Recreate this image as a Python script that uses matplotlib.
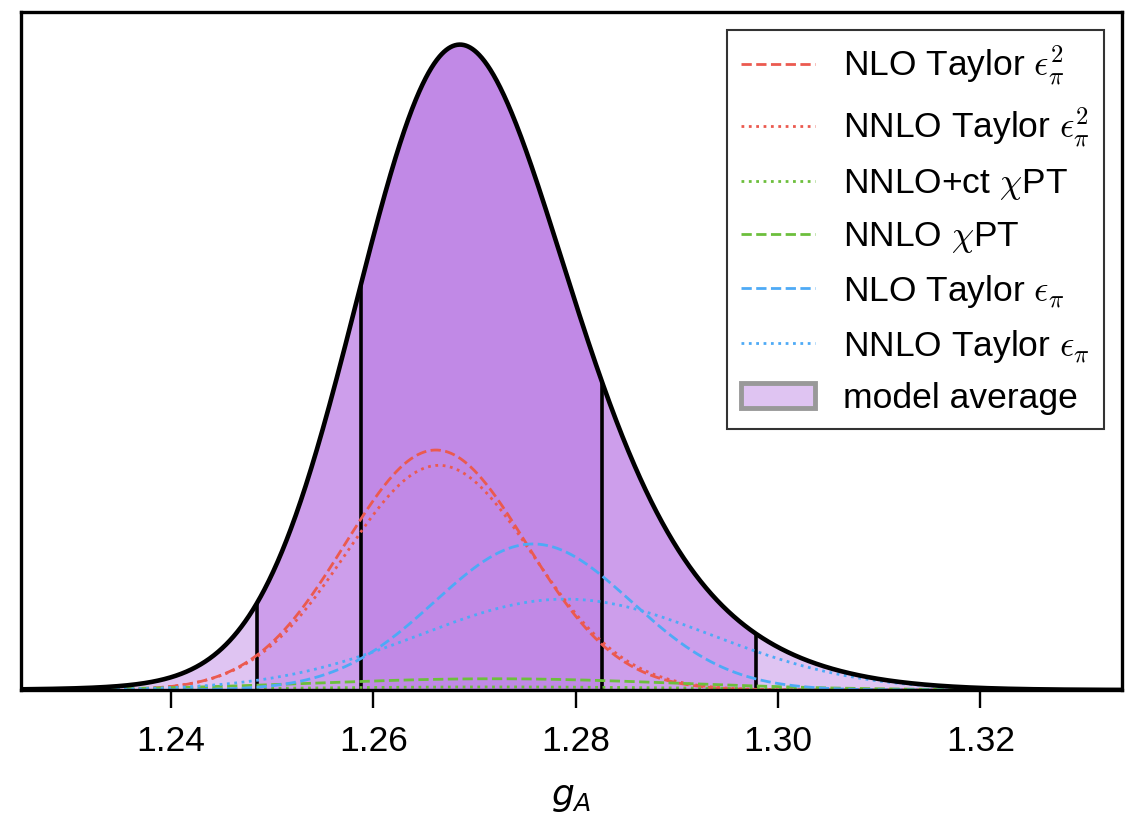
import numpy as np
import matplotlib
matplotlib.use("Agg")
import matplotlib.pyplot as plt
from matplotlib.patches import Patch

plt.rcParams['font.family'] = ['Liberation Sans', 'DejaVu Sans']
plt.rcParams['mathtext.fontset'] = 'cm'

# model fits: centre, width, peak height (arbitrary units)
labels = [r'NLO Taylor $\epsilon_\pi^2$', r'NNLO Taylor $\epsilon_\pi^2$',
          r'NNLO+ct $\chi$PT', r'NNLO $\chi$PT',
          r'NLO Taylor $\epsilon_\pi$', r'NNLO Taylor $\epsilon_\pi$']
mean = [1.2662, 1.2665, 1.2720, 1.2720, 1.2758, 1.2790]
sigma = [0.0090, 0.0092, 0.0200, 0.0180, 0.0097, 0.0144]
peak_height = [235, 220, 3, 11, 143, 89]
colors = ['#eb5a4f', '#eb5a4f', '#6cbf3c', '#6cbf3c', '#4eaaf6', '#4eaaf6']
styles = ['--', ':', ':', '--', '--', ':']

# credible intervals of the model average
ci68 = (1.2588, 1.2826)
ci95 = (1.2485, 1.2978)

xlim = (1.2252, 1.3340)
x = np.linspace(xlim[0], xlim[1], 2000)

fig = plt.figure(figsize=(11.35, 8.13), dpi=100)
ax = fig.add_axes([0.0185, 0.1513, 0.97, 0.834])

curves = []
for m, s, h in zip(mean, sigma, peak_height):
    curves.append(h * np.exp(-(x - m) ** 2 / (2 * s ** 2)))
avg = np.sum(curves, axis=0)

# shaded regions
ax.fill_between(x, 0, avg, where=(x <= ci95[0]), color='#dfc4f2', edgecolor='#b8a0c8', lw=0.8)
ax.fill_between(x, 0, avg, where=(x >= ci95[1]), color='#dfc4f2', edgecolor='#b8a0c8', lw=0.8)
ax.fill_between(x, 0, avg, where=(x >= ci95[0]) & (x <= ci68[0]), color='#cd9eeb', lw=0)
ax.fill_between(x, 0, avg, where=(x >= ci68[1]) & (x <= ci95[1]), color='#cd9eeb', lw=0)
ax.fill_between(x, 0, avg, where=(x >= ci68[0]) & (x <= ci68[1]), color='#c189e6', lw=0)

for b in list(ci95) + list(ci68):
    ax.vlines(b, 0, np.interp(b, x, avg), color='black', lw=2.6)

handles = []
for c, lab, col, ls in zip(curves, labels, colors, styles):
    l, = ax.plot(x, c, ls=ls, color=col, lw=2.0, label=lab)
    handles.append(l)

ax.plot(x, avg, color='black', lw=3.3)

handles.append(Patch(facecolor='#dfc4f2', edgecolor='#999999', lw=3.5, label='model average'))

ax.set_xlim(xlim)
ax.set_ylim(0, 664)
ax.set_yticks([])
ax.set_xticks([1.24, 1.26, 1.28, 1.30, 1.32])
ax.set_xticklabels(['1.24', '1.26', '1.28', '1.30', '1.32'])
ax.tick_params(axis='x', labelsize=25.5, length=13, width=1.7, pad=12.5)
for sp in ax.spines.values():
    sp.set_linewidth(2.4)

ax.set_xlabel(r'$\mathit{g_A}$', fontsize=26, math_fontfamily='dejavusans', labelpad=15)

leg = ax.legend(handles=handles, loc='upper right', fontsize=25.5, fancybox=False,
                framealpha=1, edgecolor='#333333', handlelength=2.1)
leg.get_frame().set_linewidth(1.5)
for t in leg.get_texts():
    t.set_math_fontfamily('cm')

fig.savefig('out.png', dpi=100)
